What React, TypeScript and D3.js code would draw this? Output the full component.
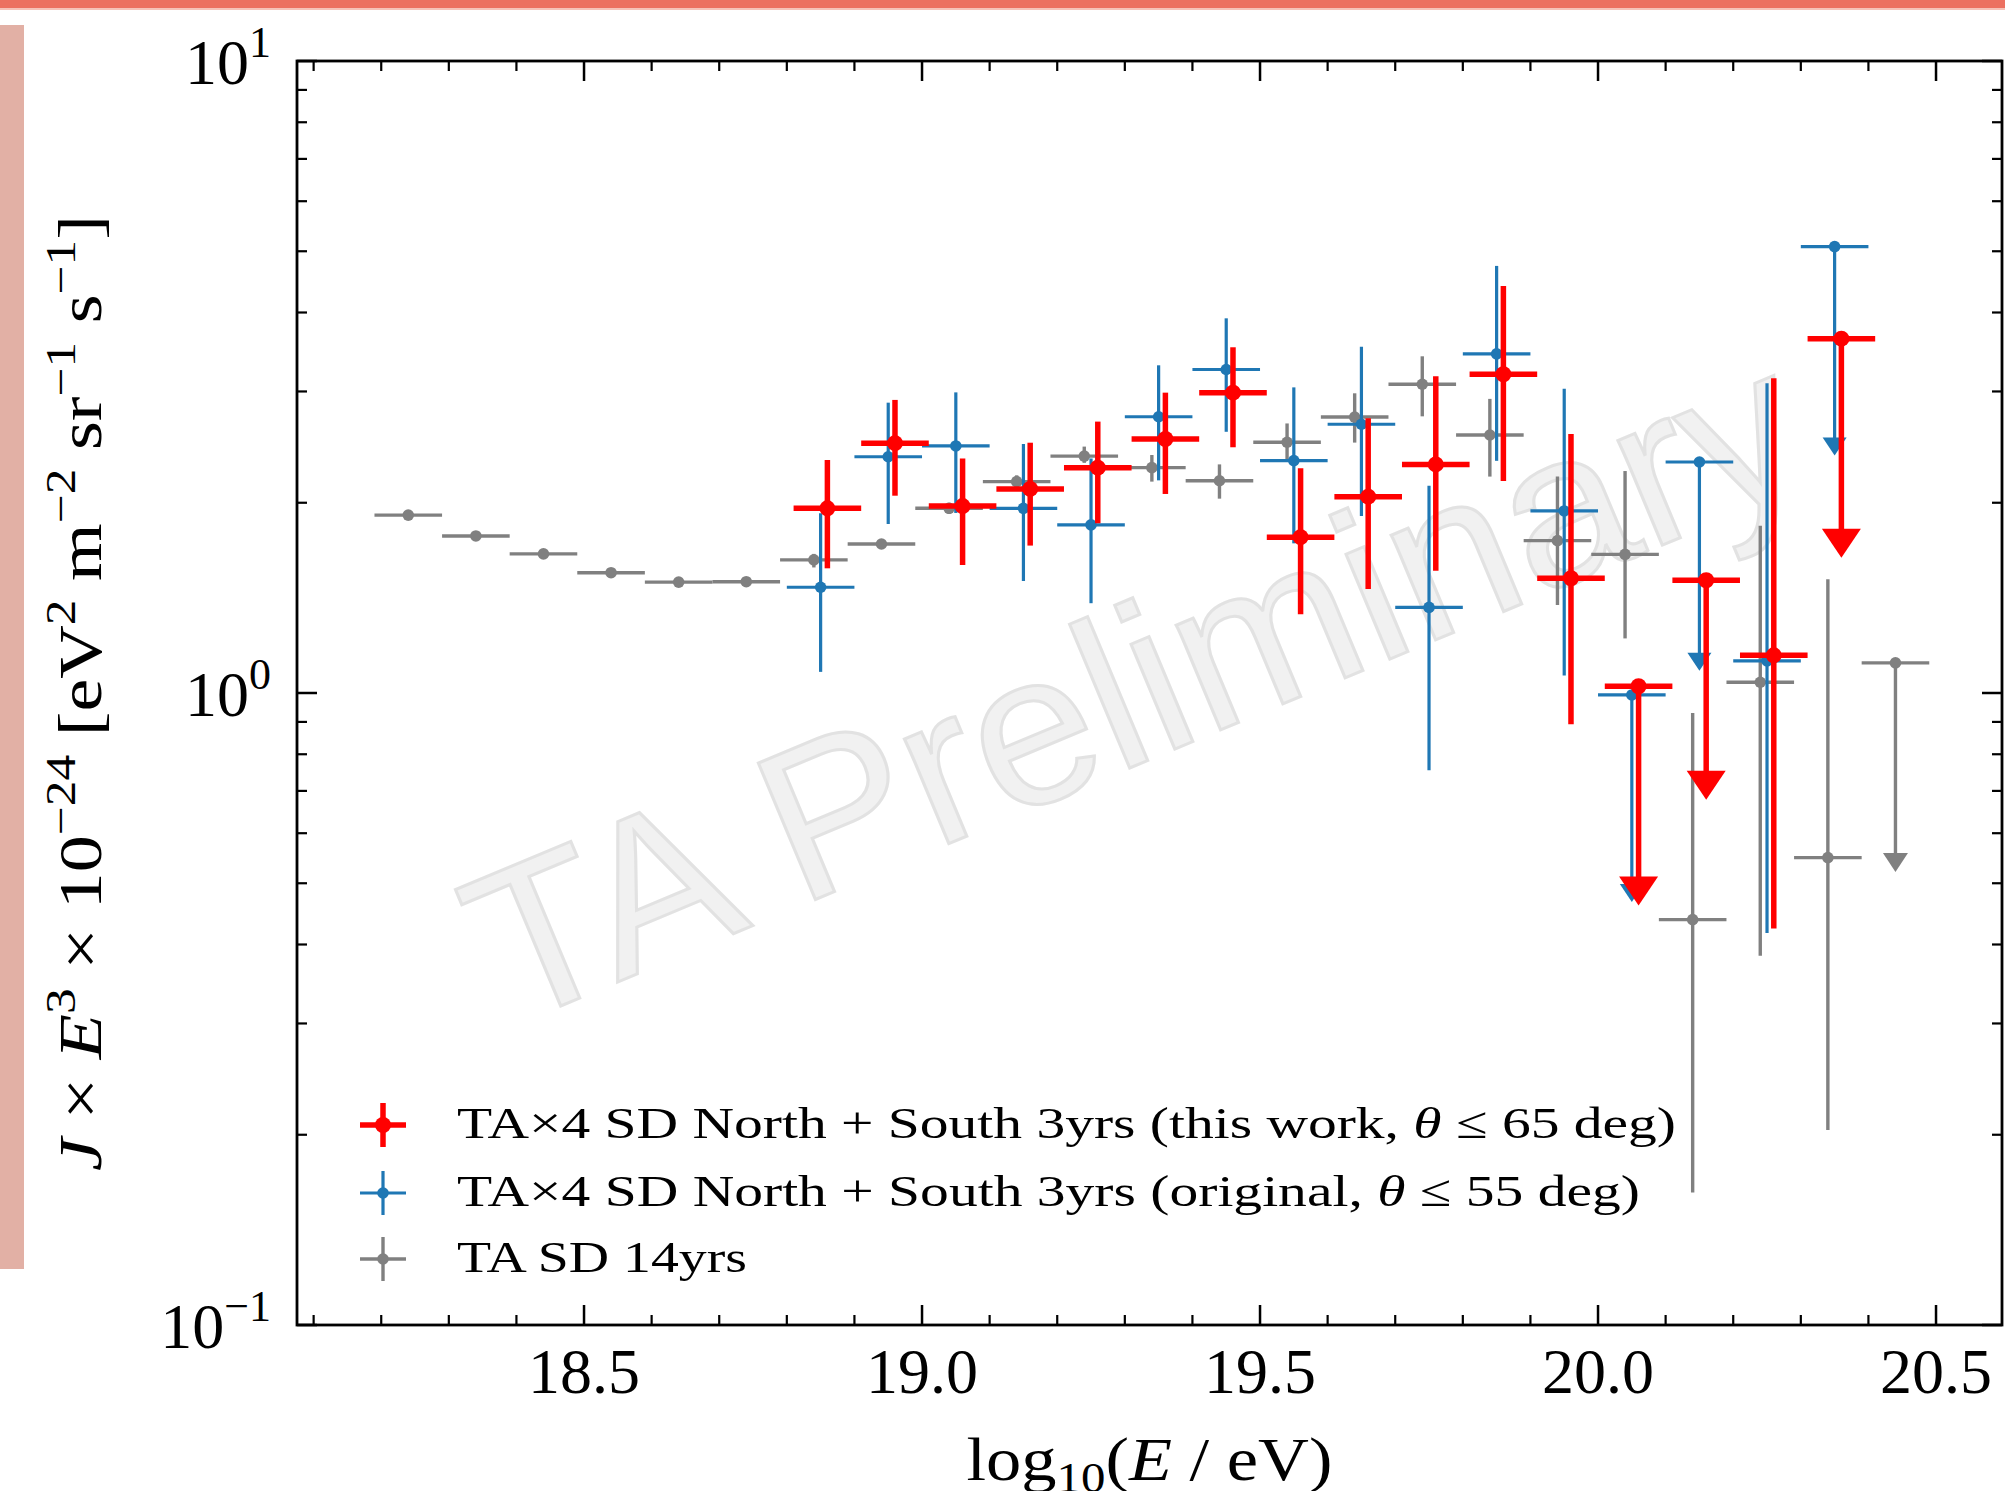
import React from "react";
import * as d3 from "d3";

// ---------------- data ----------------
const xTickLabels = ["18.5", "19.0", "19.5", "20.0", "20.5"];
const xMajorTicks = [18.5, 19.0, 19.5, 20.0, 20.5];
const yMajorTicks = [0.1, 1, 10];
const yTickExponents = ["−1", "0", "1"];

// TA SD 14yrs (gray)
const grayE = [18.24, 18.34, 18.44, 18.54, 18.64, 18.74, 18.84, 18.94, 19.04, 19.14, 19.24, 19.34, 19.44, 19.54, 19.64, 19.74, 19.84, 19.94, 20.04, 20.14, 20.24, 20.34, 20.44];
const grayVal = [1.912, 1.772, 1.66, 1.55, 1.498, 1.5, 1.624, 1.721, 1.96, 2.16, 2.37, 2.273, 2.167, 2.493, 2.733, 3.08, 2.56, 1.742, 1.657, 0.438, 1.04, 0.549, 1.116];
const grayLo = [1.9, 1.76, 1.65, 1.54, 1.49, 1.49, 1.58, 1.71, 1.92, 2.11, 2.313, 2.16, 2.03, 2.336, 2.49, 2.74, 2.2, 1.378, 1.22, 0.162, 0.384, 0.2035, 0.521];
const grayHi = [1.925, 1.785, 1.67, 1.56, 1.505, 1.51, 1.66, 1.73, 2.0, 2.21, 2.454, 2.38, 2.3, 2.67, 2.98, 3.41, 2.92, 2.2, 2.245, 0.93, 1.84, 1.513, 1.116];
const grayUL = [false, false, false, false, false, false, false, false, false, false, false, false, false, false, false, false, false, false, false, false, false, false, true];

// TAx4 original (blue)
const blueE = [18.85, 18.95, 19.05, 19.15, 19.25, 19.35, 19.45, 19.55, 19.65, 19.75, 19.85, 19.95, 20.05, 20.15, 20.25, 20.35];
const blueVal = [1.47, 2.365, 2.46, 1.96, 1.845, 2.736, 3.25, 2.332, 2.662, 1.366, 3.44, 1.941, 0.993, 2.32, 1.124, 5.085];
const blueLo = [1.08, 1.851, 1.927, 1.504, 1.387, 2.17, 2.59, 1.725, 1.905, 0.755, 2.33, 1.066, 0.467, 1.084, 0.417, 2.375];
const blueHi = [1.925, 2.88, 2.99, 2.477, 2.35, 3.3, 3.916, 3.045, 3.53, 2.128, 4.74, 3.03, 0.993, 2.32, 3.09, 5.085];
const blueUL = [false, false, false, false, false, false, false, false, false, false, false, false, true, true, false, true];

// TAx4 this work (red)
const redE = [18.86, 18.96, 19.06, 19.16, 19.26, 19.36, 19.46, 19.56, 19.66, 19.76, 19.86, 19.96, 20.06, 20.16, 20.26, 20.36];
const redVal = [1.96, 2.485, 1.976, 2.103, 2.273, 2.523, 2.987, 1.764, 2.045, 2.3, 3.194, 1.519, 1.025, 1.508, 1.147, 3.636];
const redLo = [1.575, 2.052, 1.594, 1.711, 1.856, 2.065, 2.448, 1.332, 1.461, 1.561, 2.165, 0.892, 0.461, 0.678, 0.424, 1.637];
const redHi = [2.337, 2.909, 2.35, 2.489, 2.688, 2.987, 3.524, 2.268, 2.72, 3.17, 4.405, 2.57, 1.025, 1.508, 3.147, 3.636];
const redUL = [false, false, false, false, false, false, false, false, false, false, false, false, true, true, false, true];

const binHalfWidth = 0.05;

const legendLabels = [
  { pre: "TA×4 SD North + South 3yrs (this work, ", theta: "θ", post: " ≤ 65 deg)" },
  { pre: "TA×4 SD North + South 3yrs (original, ", theta: "θ", post: " ≤ 55 deg)" },
  { pre: "TA SD 14yrs", theta: "", post: "" },
];

// ---------------- layout ----------------
const W = 2005;
const H = 1491;
const L = 297;
const R = 2002;
const T = 61;
const B = 1325;
const SERIF = "'Liberation Serif', 'DejaVu Serif', serif";

const x = d3.scaleLinear().domain([18.0754, 20.5976]).range([L, R]);
const y = d3.scaleLog().domain([0.1, 10]).range([B, T]);

const xMinor = d3.range(18.1, 20.6, 0.1).map((v) => Math.round(v * 10) / 10).filter((v) => !xMajorTicks.some((m) => Math.abs(m - v) < 1e-6));
const yMinor = [0.1, 1].flatMap((d) => d3.range(2, 10).map((k) => k * d));

type Style = { color: string; lw: number; r: number; triW: number; triH: number };

function Series({ E, val, lo, hi, ul, st }: { E: number[]; val: number[]; lo: number[]; hi: number[]; ul: boolean[]; st: Style }) {
  return (
    <g>
      {E.map((e, i) => {
        const cx = x(e);
        const cy = y(val[i]);
        const parts: any[] = [];
        parts.push(
          <line key="h" x1={x(e - binHalfWidth)} x2={x(e + binHalfWidth)} y1={cy} y2={cy} stroke={st.color} strokeWidth={st.lw} />
        );
        if (ul[i]) {
          const tip = y(lo[i]);
          const base = tip - st.triH;
          parts.push(<line key="v" x1={cx} x2={cx} y1={cy} y2={base + 1} stroke={st.color} strokeWidth={st.lw} />);
          parts.push(
            <path key="t" d={`M${cx - st.triW / 2},${base}L${cx + st.triW / 2},${base}L${cx},${tip}Z`} fill={st.color} />
          );
        } else {
          parts.push(<line key="v" x1={cx} x2={cx} y1={y(hi[i])} y2={y(lo[i])} stroke={st.color} strokeWidth={st.lw} />);
        }
        parts.push(<circle key="c" cx={cx} cy={cy} r={st.r} fill={st.color} />);
        return <g key={i}>{parts}</g>;
      })}
    </g>
  );
}

const grayStyle: Style = { color: "#808080", lw: 3.4, r: 5.8, triW: 25, triH: 19 };
const blueStyle: Style = { color: "#1f77b4", lw: 3.2, r: 5.8, triW: 24, triH: 18 };
const redStyle: Style = { color: "#ff0000", lw: 5.5, r: 8, triW: 39, triH: 29 };

export default function App() {
  const legendRows = [
    { st: redStyle, cy: 1125, base: 1138, len: 1219, vh: 22, hw: 23 },
    { st: blueStyle, cy: 1193, base: 1206, len: 1183, vh: 22, hw: 23 },
    { st: grayStyle, cy: 1259, base: 1272, len: 290, vh: 22, hw: 23 },
  ];
  return (
    <div style={{ position: "absolute", left: 0, top: 0 }}>
      <svg width={W} height={H} viewBox={`0 0 ${W} ${H}`} style={{ display: "block", background: "#fff" }}>
        <rect x={0} y={0} width={W} height={H} fill="#ffffff" />
        {/* decorative slide elements */}
        <rect x={0} y={0} width={W} height={8} fill="#ec7060" />
        <rect x={0} y={8} width={W} height={2} fill="#f6c2b8" />
        <rect x={0} y={25} width={24} height={1244} fill="#e2b0a5" />

        {/* watermark */}
        <text
          transform="translate(508,1028) rotate(-22.7)"
          fontFamily="'Liberation Sans', Arial, sans-serif"
          fontSize={215}
          textLength={1420}
          lengthAdjust="spacingAndGlyphs"
          fill="#f1f1f1"
          stroke="#e2e2e2"
          strokeWidth={3}
        >
          TA Preliminary
        </text>

        {/* data */}
        <Series E={grayE} val={grayVal} lo={grayLo} hi={grayHi} ul={grayUL} st={grayStyle} />
        <Series E={blueE} val={blueVal} lo={blueLo} hi={blueHi} ul={blueUL} st={blueStyle} />
        <Series E={redE} val={redVal} lo={redLo} hi={redHi} ul={redUL} st={redStyle} />

        {/* frame */}
        <rect x={L} y={T} width={R - L} height={B - T} fill="none" stroke="#000" strokeWidth={2.8} />

        {/* x ticks */}
        {xMajorTicks.map((v) => (
          <g key={"xM" + v}>
            <line x1={x(v)} x2={x(v)} y1={B} y2={B - 20} stroke="#000" strokeWidth={2.5} />
            <line x1={x(v)} x2={x(v)} y1={T} y2={T + 20} stroke="#000" strokeWidth={2.5} />
          </g>
        ))}
        {xMinor.map((v) => (
          <g key={"xm" + v}>
            <line x1={x(v)} x2={x(v)} y1={B} y2={B - 10} stroke="#000" strokeWidth={2.2} />
            <line x1={x(v)} x2={x(v)} y1={T} y2={T + 10} stroke="#000" strokeWidth={2.2} />
          </g>
        ))}
        {/* y ticks */}
        {yMajorTicks.map((v) => (
          <g key={"yM" + v}>
            <line x1={L} x2={L + 20} y1={y(v)} y2={y(v)} stroke="#000" strokeWidth={2.5} />
            <line x1={R} x2={R - 20} y1={y(v)} y2={y(v)} stroke="#000" strokeWidth={2.5} />
          </g>
        ))}
        {yMinor.map((v) => (
          <g key={"ym" + v}>
            <line x1={L} x2={L + 10} y1={y(v)} y2={y(v)} stroke="#000" strokeWidth={2.2} />
            <line x1={R} x2={R - 10} y1={y(v)} y2={y(v)} stroke="#000" strokeWidth={2.2} />
          </g>
        ))}

        {/* x tick labels */}
        {xMajorTicks.map((v, i) => (
          <text key={"xl" + v} x={x(v)} y={1393} textAnchor="middle" fontFamily={SERIF} fontSize={64} fill="#000">
            {xTickLabels[i]}
          </text>
        ))}
        {/* y tick labels */}
        {yMajorTicks.map((v, i) => (
          <text key={"yl" + v} x={271} y={y(v) + 23} textAnchor="end" fontFamily={SERIF} fontSize={64} fill="#000">
            <tspan>10</tspan>
            <tspan dy={-27} fontSize={44}>{yTickExponents[i]}</tspan>
          </text>
        ))}

        {/* y label */}
        <text
          transform={`translate(101,${(T + B) / 2}) rotate(-90)`}
          textAnchor="middle"
          fontFamily={SERIF}
          fontSize={62}
          textLength={956}
          lengthAdjust="spacingAndGlyphs"
          fill="#000"
        >
          <tspan fontStyle="italic">J</tspan>
          <tspan> × </tspan>
          <tspan fontStyle="italic">E</tspan>
          <tspan dy={-26} fontSize={43}>3</tspan>
          <tspan dy={26}> × 10</tspan>
          <tspan dy={-26} fontSize={43}>−24</tspan>
          <tspan dy={26}> [eV</tspan>
          <tspan dy={-26} fontSize={43}>2</tspan>
          <tspan dy={26}> m</tspan>
          <tspan dy={-26} fontSize={43}>−2</tspan>
          <tspan dy={26}> sr</tspan>
          <tspan dy={-26} fontSize={43}>−1</tspan>
          <tspan dy={26}> s</tspan>
          <tspan dy={-26} fontSize={43}>−1</tspan>
          <tspan dy={26}>]</tspan>
        </text>

        {/* x label */}
        <text
          x={(L + R) / 2}
          y={1480}
          textAnchor="middle"
          fontFamily={SERIF}
          fontSize={62}
          textLength={366}
          lengthAdjust="spacingAndGlyphs"
          fill="#000"
        >
          <tspan>log</tspan>
          <tspan dy={12} fontSize={43}>10</tspan>
          <tspan dy={-12}>(</tspan>
          <tspan fontStyle="italic">E</tspan>
          <tspan> / eV)</tspan>
        </text>

        {/* legend */}
        {legendRows.map((row, i) => (
          <g key={"lg" + i}>
            <line x1={383} x2={383} y1={row.cy - row.vh} y2={row.cy + row.vh} stroke={row.st.color} strokeWidth={row.st.lw} />
            <line x1={383 - row.hw} x2={383 + row.hw} y1={row.cy} y2={row.cy} stroke={row.st.color} strokeWidth={row.st.lw} />
            <circle cx={383} cy={row.cy} r={row.st.r} fill={row.st.color} />
            <text
              x={457}
              y={row.base}
              fontFamily={SERIF}
              fontSize={45}
              textLength={row.len}
              lengthAdjust="spacingAndGlyphs"
              fill="#000"
            >
              <tspan>{legendLabels[i].pre}</tspan>
              {legendLabels[i].theta ? <tspan fontStyle="italic">{legendLabels[i].theta}</tspan> : null}
              {legendLabels[i].post ? <tspan>{legendLabels[i].post}</tspan> : null}
            </text>
          </g>
        ))}
      </svg>
    </div>
  );
}
